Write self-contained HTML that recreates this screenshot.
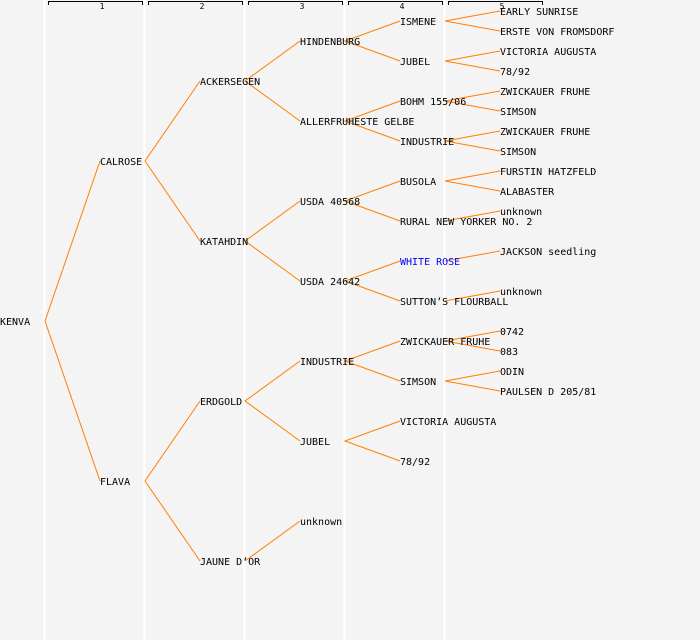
<!DOCTYPE html>
<html><head><meta charset="utf-8"><style>
html,body{margin:0;padding:0;background:#f4f4f4}
svg{display:block}
text{font-family:"DejaVu Sans Mono","Liberation Mono",monospace;font-size:10px;fill:#000}
.h{font-size:8px;text-anchor:middle}
</style></head><body>
<svg width="700" height="640" viewBox="0 0 700 640">
<rect width="700" height="640" fill="#f4f4f4"/>
<g stroke="#ffffff" stroke-width="2">
<line x1="44.5" y1="0" x2="44.5" y2="640"/><line x1="144.5" y1="0" x2="144.5" y2="640"/>
<line x1="244.5" y1="0" x2="244.5" y2="640"/><line x1="344.5" y1="0" x2="344.5" y2="640"/>
<line x1="444.5" y1="0" x2="444.5" y2="640"/>
</g>
<g stroke="#000" fill="none" stroke-width="1">
<path d="M48.5,5V1.5H142.5V5"/><path d="M148.5,5V1.5H242.5V5"/><path d="M248.5,5V1.5H342.5V5"/><path d="M348.5,5V1.5H442.5V5"/><path d="M448.5,5V1.5H542.5V5"/>
</g>
<text class="h" x="102" y="9">1</text><text class="h" x="202" y="9">2</text><text class="h" x="302" y="9">3</text><text class="h" x="402" y="9">4</text><text class="h" x="502" y="9">5</text>
<g stroke="#ff8000" stroke-width="1" fill="none">
<path d="M100,161L45,321L100,481"/>
<path d="M200,81L145,161L200,241"/>
<path d="M200,401L145,481L200,561"/>
<path d="M300,41L245,81L300,121"/>
<path d="M300,201L245,241L300,281"/>
<path d="M300,361L245,401L300,441"/>
<path d="M300,521L245,561"/>
<path d="M400,21L345,41L400,61"/>
<path d="M400,101L345,121L400,141"/>
<path d="M400,181L345,201L400,221"/>
<path d="M400,261L345,281L400,301"/>
<path d="M400,341L345,361L400,381"/>
<path d="M400,421L345,441L400,461"/>
<path d="M500,11L445,21L500,31"/>
<path d="M500,51L445,61L500,71"/>
<path d="M500,91L445,101L500,111"/>
<path d="M500,131L445,141L500,151"/>
<path d="M500,171L445,181L500,191"/>
<path d="M500,211L445,221"/>
<path d="M500,251L445,261"/>
<path d="M500,291L445,301"/>
<path d="M500,331L445,341L500,351"/>
<path d="M500,371L445,381L500,391"/>
</g>
<g>
<text x="0" y="325">KENVA</text>
<text x="100" y="165">CALROSE</text>
<text x="100" y="485">FLAVA</text>
<text x="200" y="85">ACKERSEGEN</text>
<text x="200" y="245">KATAHDIN</text>
<text x="200" y="405">ERDGOLD</text>
<text x="200" y="565">JAUNE D’OR</text>
<text x="300" y="45">HINDENBURG</text>
<text x="300" y="125">ALLERFRUHESTE GELBE</text>
<text x="300" y="205">USDA 40568</text>
<text x="300" y="285">USDA 24642</text>
<text x="300" y="365">INDUSTRIE</text>
<text x="300" y="445">JUBEL</text>
<text x="300" y="525">unknown</text>
<text x="400" y="25">ISMENE</text>
<text x="400" y="65">JUBEL</text>
<text x="400" y="105">BOHM 155/06</text>
<text x="400" y="145">INDUSTRIE</text>
<text x="400" y="185">BUSOLA</text>
<text x="400" y="225">RURAL NEW YORKER NO. 2</text>
<text x="400" y="265" style="fill:#0000ff">WHITE ROSE</text>
<text x="400" y="305">SUTTON’S FLOURBALL</text>
<text x="400" y="345">ZWICKAUER FRUHE</text>
<text x="400" y="385">SIMSON</text>
<text x="400" y="425">VICTORIA AUGUSTA</text>
<text x="400" y="465">78/92</text>
<text x="500" y="15">EARLY SUNRISE</text>
<text x="500" y="35">ERSTE VON FROMSDORF</text>
<text x="500" y="55">VICTORIA AUGUSTA</text>
<text x="500" y="75">78/92</text>
<text x="500" y="95">ZWICKAUER FRUHE</text>
<text x="500" y="115">SIMSON</text>
<text x="500" y="135">ZWICKAUER FRUHE</text>
<text x="500" y="155">SIMSON</text>
<text x="500" y="175">FURSTIN HATZFELD</text>
<text x="500" y="195">ALABASTER</text>
<text x="500" y="215">unknown</text>
<text x="500" y="255">JACKSON seedling</text>
<text x="500" y="295">unknown</text>
<text x="500" y="335">0742</text>
<text x="500" y="355">083</text>
<text x="500" y="375">ODIN</text>
<text x="500" y="395">PAULSEN D 205/81</text>
</g>
</svg>
</body></html>
